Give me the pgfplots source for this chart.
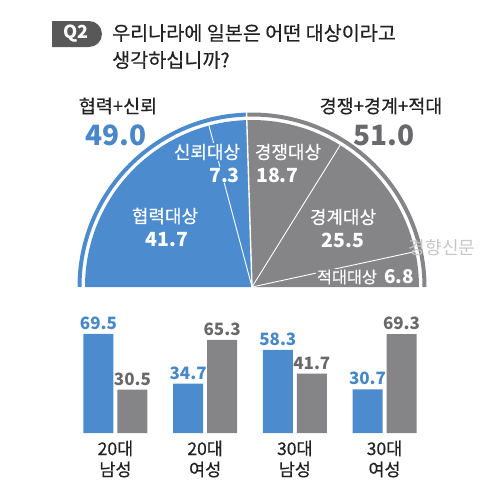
\documentclass[border=0pt]{standalone}
\usepackage{fontspec}
\setmainfont{Noto Sans CJK KR}
\newfontfamily\medfont{Noto Sans CJK KR}[FakeBold=0.45]
\usepackage{pgfplots}
\pgfplotsset{compat=1.18}
\usepackage{pgfplotstable}
\definecolor{pblue}{RGB}{76,140,206}
\definecolor{pgray}{RGB}{133,133,136}
\definecolor{tgray}{RGB}{105,105,108}
\definecolor{qbox}{RGB}{88,88,88}
\definecolor{tblue}{RGB}{72,135,200}
\definecolor{ttext}{RGB}{34,34,34}

\pgfplotstableread{
x blue gray
0 69.5 30.5
1 34.7 65.3
2 58.3 41.7
3 30.7 69.3
}\bartab

\begin{document}
\begin{tikzpicture}
\useasboundingbox (0,0) rectangle (500pt,504pt);
% pie values: 협력, 신뢰, 경쟁, 경계, 적대
\def\pA{41.7}\def\pB{7.3}\def\pC{18.7}\def\pD{25.5}\def\pE{6.8}
\pgfmathsetmacro\aA{180-1.8*\pA}
\pgfmathsetmacro\aB{\aA-1.8*\pB}
\pgfmathsetmacro\aC{\aB-1.8*\pC}
\pgfmathsetmacro\aD{\aC-1.8*\pD}
\pgfmathsetmacro\aE{\aD-1.8*\pE}

\begin{axis}[at={(0pt,0pt)},anchor=south west,scale only axis,width=500pt,height=504pt,
  xmin=0,xmax=500,ymin=0,ymax=504,y dir=reverse,hide axis,clip=false]
  % title
  \fill[qbox] (axis cs:52,21) -- (axis cs:89,21) arc[start angle=90,end angle=-90,radius=13pt] -- (axis cs:52,47) -- cycle;
  \node[text=white,font=\bfseries\fontsize{18}{18}\selectfont] at (axis cs:76,34) {Q2};
  \node[anchor=west,inner sep=0pt,text=ttext,font=\medfont\fontsize{19.6}{19.6}\selectfont] at (axis cs:112,33) {우리나라에 일본은 어떤 대상이라고};
  \node[anchor=west,inner sep=0pt,text=ttext,font=\medfont\fontsize{19.6}{19.6}\selectfont] at (axis cs:112,60) {생각하십니까?};
  % pie
  \coordinate (C) at (axis cs:252,287);
  \draw[pblue,line width=4pt] (C) ++(180:172.5pt) arc[start angle=180,end angle=\aB,radius=172.5pt];
  \draw[pgray,line width=4pt] (C) ++(\aB:172.5pt) arc[start angle=\aB,end angle=\aE,radius=172.5pt];
  \fill[pblue] (C) -- ++(180:167pt) arc[start angle=180,end angle=\aB,radius=167pt] -- cycle;
  \fill[pgray] (C) -- ++(\aB:167pt) arc[start angle=\aB,end angle=\aE,radius=167pt] -- cycle;
  \draw[white,line width=0.9pt] (C) -- ++(\aA:167pt);
  \draw[white,line width=1.4pt] (C) -- ++(\aB:178pt);
  \draw[white,line width=0.9pt] (C) -- ++(\aC:167pt);
  \draw[white,line width=0.9pt] (C) -- ++(\aD:167pt);
  % headline totals
  \node[text=ttext,font=\medfont\fontsize{18.5}{18.5}\selectfont] at (axis cs:118,106) {협력+신뢰};
  \node[text=tblue,font=\bfseries\fontsize{28}{28}\selectfont] at (axis cs:116,135) {49.0};
  \node[text=ttext,font=\medfont\fontsize{18.5}{18.5}\selectfont] at (axis cs:381,106) {경쟁+경계+적대};
  \node[text=tgray,font=\bfseries\fontsize{28}{28}\selectfont] at (axis cs:384,135) {51.0};
  % slice labels
  \node[fill=pblue,inner sep=1pt,text=white,font=\medfont\fontsize{18}{18}\selectfont] at (axis cs:207,152) {신뢰대상};
  \node[fill=pblue,anchor=east,inner sep=1pt,text=white,font=\bfseries\fontsize{19.5}{19.5}\selectfont] at (axis cs:241,175) {7.3};
  \node[text=white,font=\medfont\fontsize{18}{18}\selectfont] at (axis cs:288,152) {경쟁대상};
  \node[anchor=west,inner sep=0pt,text=white,font=\bfseries\fontsize{19.5}{19.5}\selectfont] at (axis cs:256,175) {18.7};
  \node[text=white,font=\medfont\fontsize{18}{18}\selectfont] at (axis cs:165,216) {협력대상};
  \node[text=white,font=\bfseries\fontsize{19.5}{19.5}\selectfont] at (axis cs:167,240) {41.7};
  \node[text=white,font=\medfont\fontsize{18}{18}\selectfont] at (axis cs:343,217) {경계대상};
  \node[text=white,font=\bfseries\fontsize{19.5}{19.5}\selectfont] at (axis cs:343,240) {25.5};
  \node[fill=pgray,inner sep=1pt,text=white,font=\medfont\fontsize{16.3}{16.3}\selectfont] at (axis cs:347,277) {적대대상};
  \node[text=white,inner sep=0pt,font=\bfseries\fontsize{19}{19}\selectfont] at (axis cs:399,277) {6.8};
  \node[text=black!22,font=\fontsize{18}{18}\selectfont] at (axis cs:442,248) {경향신문};
\end{axis}

\begin{axis}[at={(25.8pt,71pt)},anchor=south west,scale only axis,width=448.4pt,height=142.5pt,
  xmin=-1,xmax=4,ymin=0,ymax=100,ybar=4pt,bar width=30pt,
  axis line style={draw=none},major tick length=0pt,ytick=\empty,
  xtick={0,1,2,3},xticklabels={{20대\\남성},{20대\\여성},{30대\\남성},{30대\\여성}},
  xticklabel style={align=center,font=\medfont\fontsize{17.5}{21}\selectfont,text=ttext,yshift=-4pt},
  /pgf/number format/assume math mode=true,
  nodes near coords={\pgfmathprintnumber[fixed,fixed zerofill,precision=1]{\pgfplotspointmeta}},
  every node near coord/.append style={font=\bfseries\fontsize{17}{17}\selectfont,anchor=south,inner sep=0pt,yshift=4pt},
  clip=false]
  \addplot[fill=pblue,draw=none,every node near coord/.append style={text=tblue}] table[x=x,y=blue]{\bartab};
  \addplot[fill=pgray,draw=none,every node near coord/.append style={text=tgray}] table[x=x,y=gray]{\bartab};
\end{axis}
\end{tikzpicture}
\end{document}
